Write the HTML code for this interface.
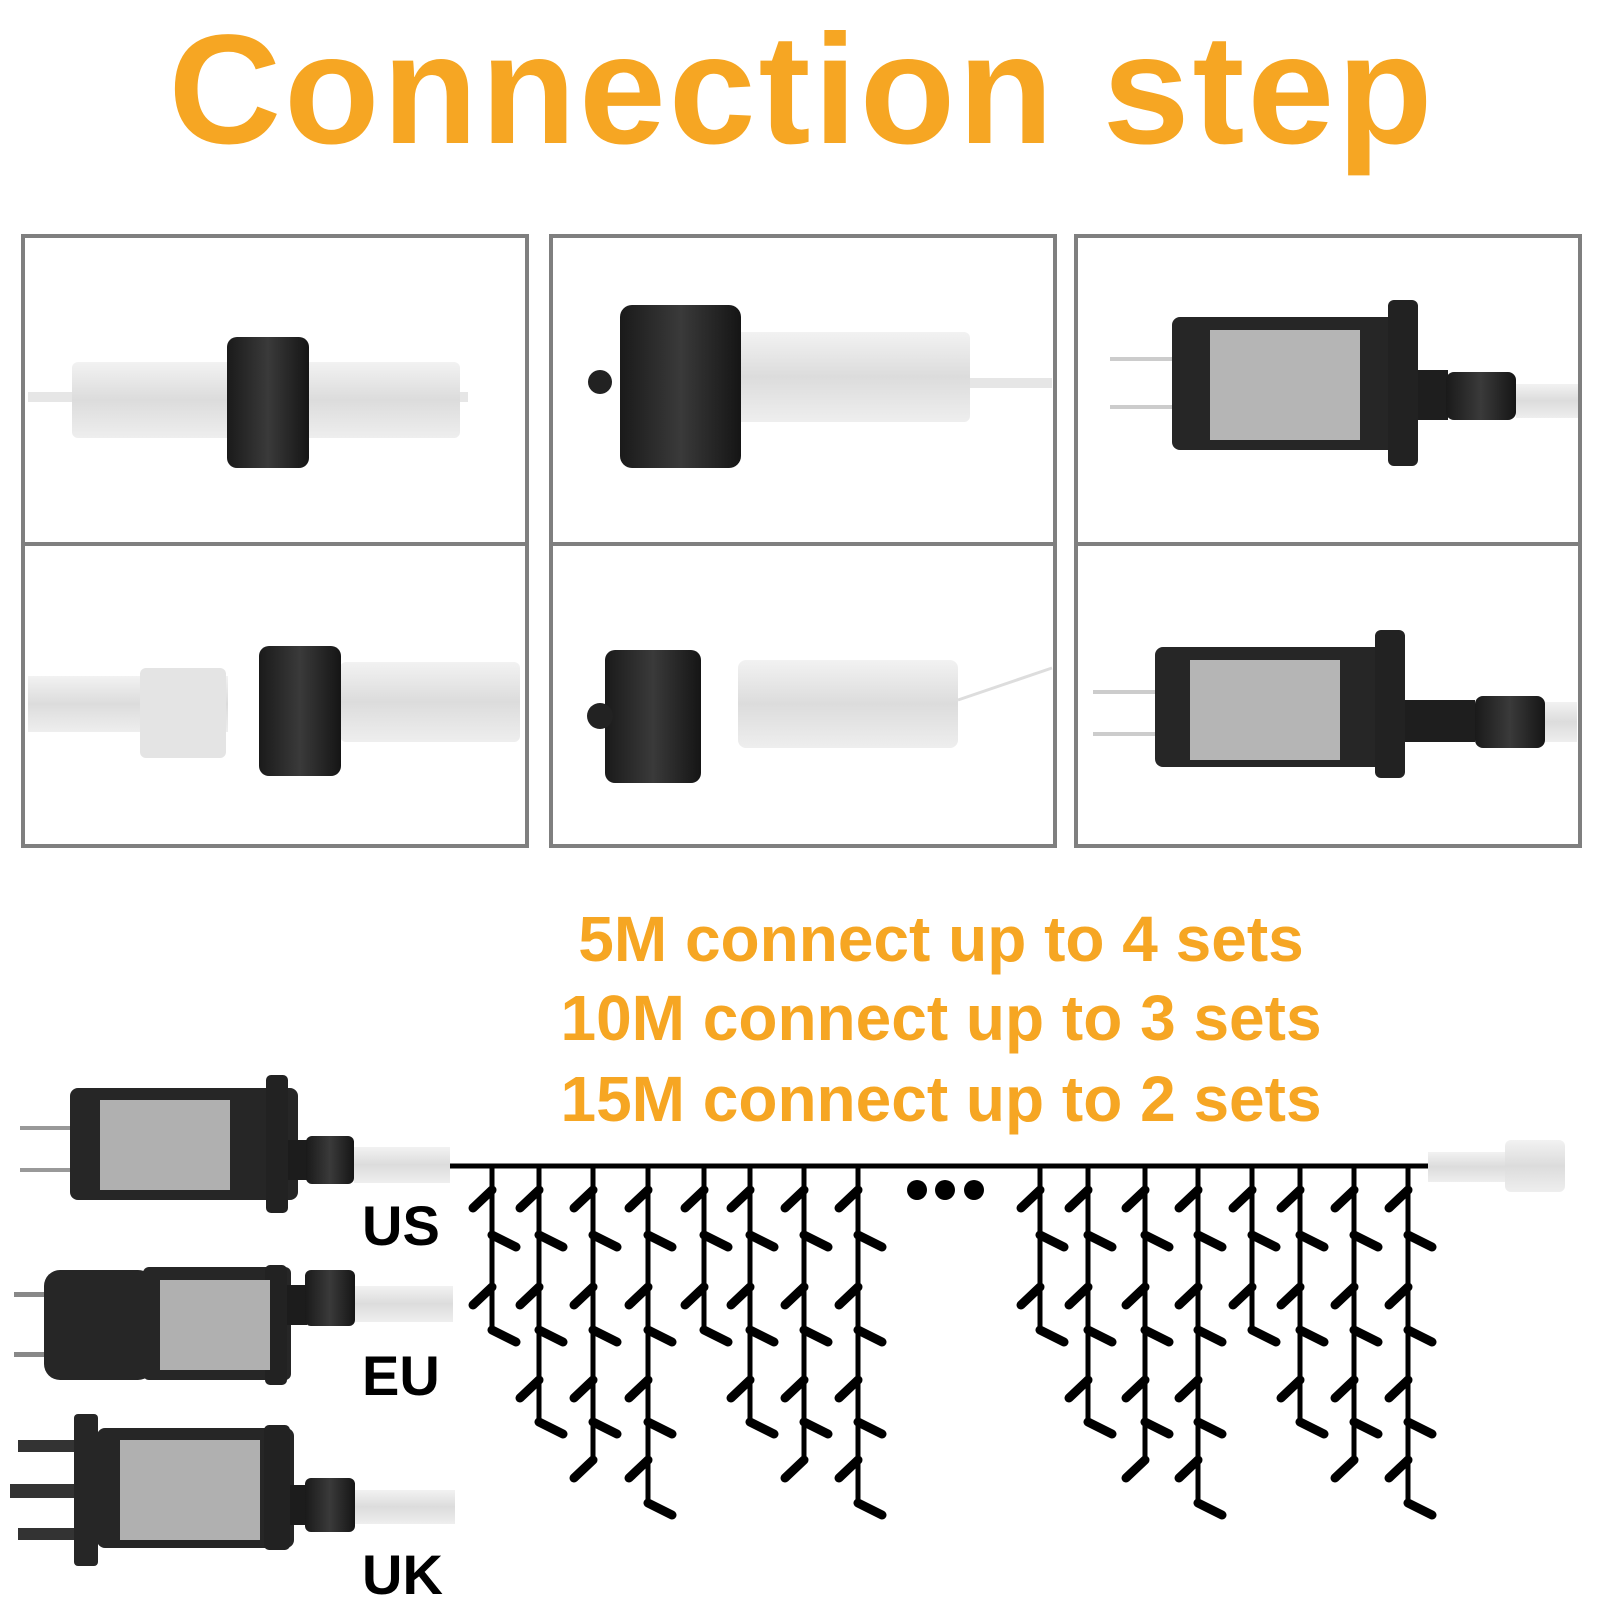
<!DOCTYPE html>
<html><head><meta charset="utf-8"><style>
html,body{margin:0;padding:0;background:#fff;width:1600px;height:1600px;overflow:hidden}
svg{display:block}
text{font-family:"Liberation Sans",Arial,sans-serif;font-weight:bold}
</style></head><body>
<svg width="1600" height="1600" viewBox="0 0 1600 1600" xmlns="http://www.w3.org/2000/svg">
<defs>
<linearGradient id="clr" x1="0" y1="0" x2="0" y2="1"><stop offset="0" stop-color="#f2f2f2"/><stop offset=".5" stop-color="#dcdcdc"/><stop offset="1" stop-color="#eeeeee"/></linearGradient>
<linearGradient id="blk" x1="0" y1="0" x2="1" y2="0"><stop offset="0" stop-color="#1a1a1a"/><stop offset=".5" stop-color="#3a3a3a"/><stop offset="1" stop-color="#151515"/></linearGradient>
<g id="tA"><path d="M0 1166V1330" stroke="#000" stroke-width="5" fill="none"/><path d="M0 1190l-19 18M0 1235l24 12M0 1287l-19 18M0 1330l24 12" stroke="#000" stroke-width="9" stroke-linecap="round" fill="none"/></g>
<g id="tB"><path d="M0 1166V1422" stroke="#000" stroke-width="5" fill="none"/><path d="M0 1190l-19 18M0 1235l24 12M0 1287l-19 18M0 1330l24 12M0 1380l-19 18M0 1422l24 12" stroke="#000" stroke-width="9" stroke-linecap="round" fill="none"/></g>
<g id="tC"><path d="M0 1166V1460" stroke="#000" stroke-width="5" fill="none"/><path d="M0 1190l-19 18M0 1235l24 12M0 1287l-19 18M0 1330l24 12M0 1380l-19 18M0 1422l24 12M0 1460l-19 18" stroke="#000" stroke-width="9" stroke-linecap="round" fill="none"/></g>
<g id="tD"><path d="M0 1166V1503" stroke="#000" stroke-width="5" fill="none"/><path d="M0 1190l-19 18M0 1235l24 12M0 1287l-19 18M0 1330l24 12M0 1380l-19 18M0 1422l24 12M0 1460l-19 18M0 1503l24 12" stroke="#000" stroke-width="9" stroke-linecap="round" fill="none"/></g>
</defs>
<text x="802" y="143" text-anchor="middle" font-size="156" letter-spacing="3" fill="#F6A623">Connection step</text>

<g fill="none" stroke="#7f7f7f" stroke-width="4">
<rect x="23" y="236" width="504" height="610"/><line x1="23" y1="544" x2="527" y2="544"/>
<rect x="551" y="236" width="504" height="610"/><line x1="551" y1="544" x2="1055" y2="544"/>
<rect x="1076" y="236" width="504" height="610"/><line x1="1076" y1="544" x2="1580" y2="544"/>
</g>

<rect x="28" y="392" width="440" height="10" fill="#e6e6e6"/>
<rect x="72" y="362" width="388" height="76" rx="6" fill="url(#clr)"/>
<rect x="227" y="337" width="82" height="131" rx="10" fill="url(#blk)"/>
<rect x="28" y="676" width="200" height="56" fill="url(#clr)"/>
<rect x="140" y="668" width="86" height="90" rx="6" fill="#e4e4e4"/>
<rect x="340" y="662" width="180" height="80" rx="6" fill="url(#clr)"/>
<rect x="259" y="646" width="82" height="130" rx="10" fill="url(#blk)"/>
<rect x="740" y="378" width="312" height="10" fill="#e6e6e6"/>
<rect x="730" y="332" width="240" height="90" rx="6" fill="url(#clr)"/>
<rect x="620" y="305" width="121" height="163" rx="12" fill="url(#blk)"/>
<circle cx="600" cy="382" r="12" fill="#222"/>
<rect x="738" y="660" width="220" height="88" rx="8" fill="url(#clr)"/>
<path d="M958 700 L1052 668" stroke="#ddd" stroke-width="3"/>
<rect x="605" y="650" width="96" height="133" rx="10" fill="url(#blk)"/>
<circle cx="600" cy="716" r="13" fill="#222"/>
<rect x="1110" y="357" width="62" height="4" fill="#ccc"/><rect x="1110" y="405" width="62" height="4" fill="#ccc"/>
<rect x="1172" y="317" width="225" height="133" rx="8" fill="#262626"/>
<rect x="1388" y="300" width="30" height="166" rx="6" fill="#222"/>
<rect x="1418" y="370" width="30" height="50" fill="#1e1e1e"/>
<rect x="1446" y="372" width="70" height="48" rx="8" fill="url(#blk)"/>
<rect x="1516" y="384" width="62" height="34" fill="url(#clr)"/>
<rect x="1210" y="330" width="150" height="110" fill="#b5b5b5"/>
<rect x="1093" y="690" width="62" height="4" fill="#ccc"/><rect x="1093" y="732" width="62" height="4" fill="#ccc"/>
<rect x="1155" y="647" width="228" height="120" rx="8" fill="#262626"/>
<rect x="1375" y="630" width="30" height="148" rx="6" fill="#222"/>
<rect x="1405" y="700" width="70" height="42" fill="#1e1e1e"/>
<rect x="1475" y="696" width="70" height="52" rx="8" fill="url(#blk)"/>
<rect x="1545" y="702" width="32" height="40" fill="url(#clr)"/>
<rect x="1190" y="660" width="150" height="100" fill="#b5b5b5"/>

<g font-size="64" fill="#F6A623" text-anchor="middle">
<text x="941" y="961">5M connect up to 4 sets</text>
<text x="941" y="1040">10M connect up to 3 sets</text>
<text x="941" y="1121">15M connect up to 2 sets</text>
</g>

<rect x="20" y="1126" width="52" height="4" fill="#999"/><rect x="20" y="1168" width="52" height="4" fill="#999"/>
<rect x="70" y="1088" width="228" height="112" rx="8" fill="#262626"/>
<rect x="266" y="1075" width="22" height="138" rx="5" fill="#222"/>
<rect x="288" y="1140" width="20" height="40" fill="#1c1c1c"/>
<rect x="306" y="1136" width="48" height="48" rx="6" fill="url(#blk)"/>
<rect x="354" y="1147" width="96" height="36" fill="url(#clr)"/>
<rect x="100" y="1100" width="130" height="90" fill="#b0b0b0"/>
<rect x="14" y="1292" width="40" height="5" fill="#888"/><rect x="14" y="1352" width="40" height="5" fill="#888"/>
<rect x="44" y="1270" width="110" height="110" rx="16" fill="#262626"/>
<rect x="143" y="1267" width="148" height="113" rx="6" fill="#262626"/>
<rect x="265" y="1265" width="22" height="120" rx="5" fill="#222"/>
<rect x="287" y="1285" width="20" height="40" fill="#1c1c1c"/>
<rect x="305" y="1270" width="50" height="56" rx="6" fill="url(#blk)"/>
<rect x="355" y="1286" width="98" height="36" fill="url(#clr)"/>
<rect x="160" y="1280" width="110" height="90" fill="#b0b0b0"/>
<rect x="74" y="1414" width="24" height="152" rx="4" fill="#262626"/>
<rect x="18" y="1440" width="56" height="12" fill="#333"/><rect x="10" y="1484" width="64" height="14" fill="#333"/><rect x="18" y="1528" width="56" height="12" fill="#333"/>
<rect x="97" y="1428" width="197" height="120" rx="8" fill="#262626"/>
<rect x="264" y="1425" width="26" height="125" rx="5" fill="#222"/>
<rect x="290" y="1485" width="17" height="40" fill="#1c1c1c"/>
<rect x="305" y="1478" width="50" height="54" rx="6" fill="url(#blk)"/>
<rect x="355" y="1490" width="100" height="34" fill="url(#clr)"/>
<rect x="120" y="1440" width="140" height="100" fill="#b0b0b0"/>

<g font-size="56" fill="#000">
<text x="362" y="1245">US</text>
<text x="362" y="1395">EU</text>
<text x="362" y="1594">UK</text>
</g>

<rect x="1428" y="1152" width="80" height="30" fill="url(#clr)"/>
<rect x="1505" y="1140" width="60" height="52" rx="6" fill="url(#clr)"/>

<line x1="450" y1="1166" x2="1428" y2="1166" stroke="#000" stroke-width="5"/>
<g fill="#000"><circle cx="917" cy="1190" r="10"/><circle cx="945" cy="1190" r="10"/><circle cx="974" cy="1190" r="10"/></g>
<use href="#tA" x="492"/><use href="#tB" x="539"/><use href="#tC" x="593"/><use href="#tD" x="648"/>
<use href="#tA" x="704"/><use href="#tB" x="750"/><use href="#tC" x="804"/><use href="#tD" x="858"/>
<use href="#tA" x="1040"/><use href="#tB" x="1088"/><use href="#tC" x="1145"/><use href="#tD" x="1198"/>
<use href="#tA" x="1252"/><use href="#tB" x="1300"/><use href="#tC" x="1354"/><use href="#tD" x="1408"/>
</svg>
</body></html>
